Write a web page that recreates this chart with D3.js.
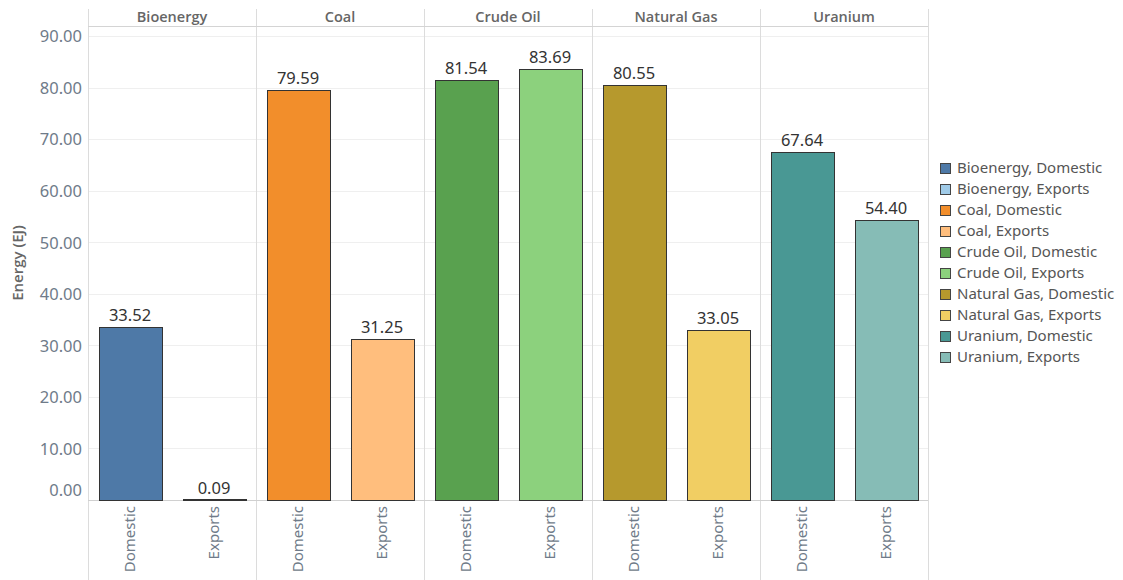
<!DOCTYPE html>
<html>
<head>
<meta charset="utf-8">
<script src="https://cdn.jsdelivr.net/npm/d3@7"></script>
<style>
  html, body { margin: 0; padding: 0; background: #fff; }
  svg { display: block; font-family: "Noto Sans", "Open Sans", sans-serif; }
</style>
</head>
<body>
<svg id="chart" width="1123" height="580"></svg>
<script>
// Energy flows by source, split into domestic use and exports (EJ)
const sources = ["Bioenergy", "Coal", "Crude Oil", "Natural Gas", "Uranium"];
const flows = ["Domestic", "Exports"];
const domesticValues = [33.52, 79.59, 81.54, 80.55, 67.64];
const exportValues = [0.09, 31.25, 83.69, 33.05, 54.40];
const domesticColors = ["#4e79a7", "#f28e2b", "#59a14f", "#b6992d", "#499894"];
const exportColors = ["#a0cbe8", "#ffbe7d", "#8cd17d", "#f1ce63", "#86bcb6"];
const yTicks = [0, 10, 20, 30, 40, 50, 60, 70, 80, 90];

const rows = [];
sources.forEach((s, i) => {
  rows.push({ source: s, flow: "Domestic", value: domesticValues[i], color: domesticColors[i] });
  rows.push({ source: s, flow: "Exports", value: exportValues[i], color: exportColors[i] });
});

const svg = d3.select("#chart");
const plotLeft = 88, plotRight = 928, plotTop = 26, plotBottom = 500;

const xPanel = d3.scaleBand().domain(sources).range([plotLeft, plotRight]).padding(0);
const xFlow = d3.scaleBand().domain(flows).range([0, xPanel.bandwidth()])
  .paddingInner(0.25).paddingOuter(0.125);
const y = d3.scaleLinear().domain([0, 92]).range([plotBottom, plotTop]);

// horizontal gridlines
svg.append("g").selectAll("line").data(yTicks.filter(t => t > 0)).join("line")
  .attr("x1", plotLeft).attr("x2", plotRight)
  .attr("y1", d => Math.round(y(d)) + 0.5).attr("y2", d => Math.round(y(d)) + 0.5)
  .attr("stroke", "#efefef").attr("stroke-width", 1);

// panel dividers
svg.append("g").selectAll("line").data(sources.map(s => xPanel(s)).concat([plotRight])).join("line")
  .attr("x1", d => Math.round(d) + 0.5).attr("x2", d => Math.round(d) + 0.5)
  .attr("y1", 9).attr("y2", 580)
  .attr("stroke", "#dcdcdc").attr("stroke-width", 1);

// header rule and baseline
svg.append("line").attr("x1", plotLeft).attr("x2", plotRight).attr("y1", plotTop + 0.5).attr("y2", plotTop + 0.5)
  .attr("stroke", "#d4d4d4");
svg.append("line").attr("x1", plotLeft).attr("x2", plotRight)
  .attr("y1", Math.round(y(0)) + 0.5).attr("y2", Math.round(y(0)) + 0.5)
  .attr("stroke", "#d0d0d0");

// panel headers
svg.append("g").selectAll("text").data(sources).join("text")
  .attr("x", d => xPanel(d) + xPanel.bandwidth() / 2).attr("y", 18.5)
  .attr("text-anchor", "middle").attr("dominant-baseline", "middle")
  .attr("font-family", "Open Sans, Noto Sans, sans-serif")
  .attr("font-size", 14.5).attr("font-weight", 600).attr("fill", "#666")
  .text(d => d);

// y axis
const yAxis = d3.axisLeft(y).tickValues(yTicks).tickFormat(d3.format(".2f")).tickSize(0).tickPadding(6);
const yAxisG = svg.append("g").attr("transform", `translate(${plotLeft},0)`).call(yAxis);
yAxisG.select(".domain").remove();
yAxisG.selectAll("text")
  .attr("font-family", "Noto Sans, sans-serif").attr("font-size", 16.5).attr("fill", "#6f7b89")
  .attr("dy", d => d === 0 ? "-0.3em" : "0.34em");

svg.append("text")
  .attr("transform", `translate(23,${(plotTop + plotBottom) / 2}) rotate(-90)`)
  .attr("text-anchor", "middle")
  .attr("font-family", "Open Sans, Noto Sans, sans-serif")
  .attr("font-size", 15).attr("font-weight", 600).attr("fill", "#666")
  .text("Energy (EJ)");

// bars (a hairline minimum keeps near-zero values visible)
const barX = d => xPanel(d.source) + xFlow(d.flow);
svg.append("g").selectAll("rect").data(rows).join("rect")
  .attr("x", d => Math.round(barX(d)) + 0.5)
  .attr("width", Math.round(xFlow.bandwidth()))
  .attr("y", d => Math.min(Math.round(y(d.value)), Math.round(y(0)) - 1) + 0.5)
  .attr("height", d => Math.max(1, Math.round(y(0)) - Math.round(y(d.value))))
  .attr("fill", d => d.color)
  .attr("stroke", "#333").attr("stroke-width", 1);

// value labels
svg.append("g").selectAll("text").data(rows).join("text")
  .attr("x", d => barX(d) + xFlow.bandwidth() / 2)
  .attr("y", d => y(d.value) - 6)
  .attr("text-anchor", "middle")
  .attr("font-size", 16.5).attr("fill", "#333")
  .text(d => d.value.toFixed(2));

// rotated category labels
svg.append("g").selectAll("text").data(rows).join("text")
  .attr("transform", d => `translate(${barX(d) + xFlow.bandwidth() / 2 + 5},${plotBottom + 6}) rotate(-90)`)
  .attr("text-anchor", "end")
  .attr("font-size", 15).attr("fill", "#6f7b89")
  .text(d => d.flow);

// legend
const legend = svg.append("g").attr("transform", "translate(940,163)");
const items = legend.selectAll("g").data(rows).join("g")
  .attr("transform", (d, i) => `translate(0,${i * 21})`);
items.append("rect").attr("x", 0.5).attr("y", 0.5).attr("width", 10).attr("height", 10)
  .attr("fill", d => d.color).attr("stroke", "#444").attr("stroke-width", 1);
items.append("text").attr("x", 17).attr("y", 6).attr("dominant-baseline", "middle")
  .attr("font-size", 15).attr("fill", "#555")
  .text(d => `${d.source}, ${d.flow}`);
</script>
</body>
</html>
